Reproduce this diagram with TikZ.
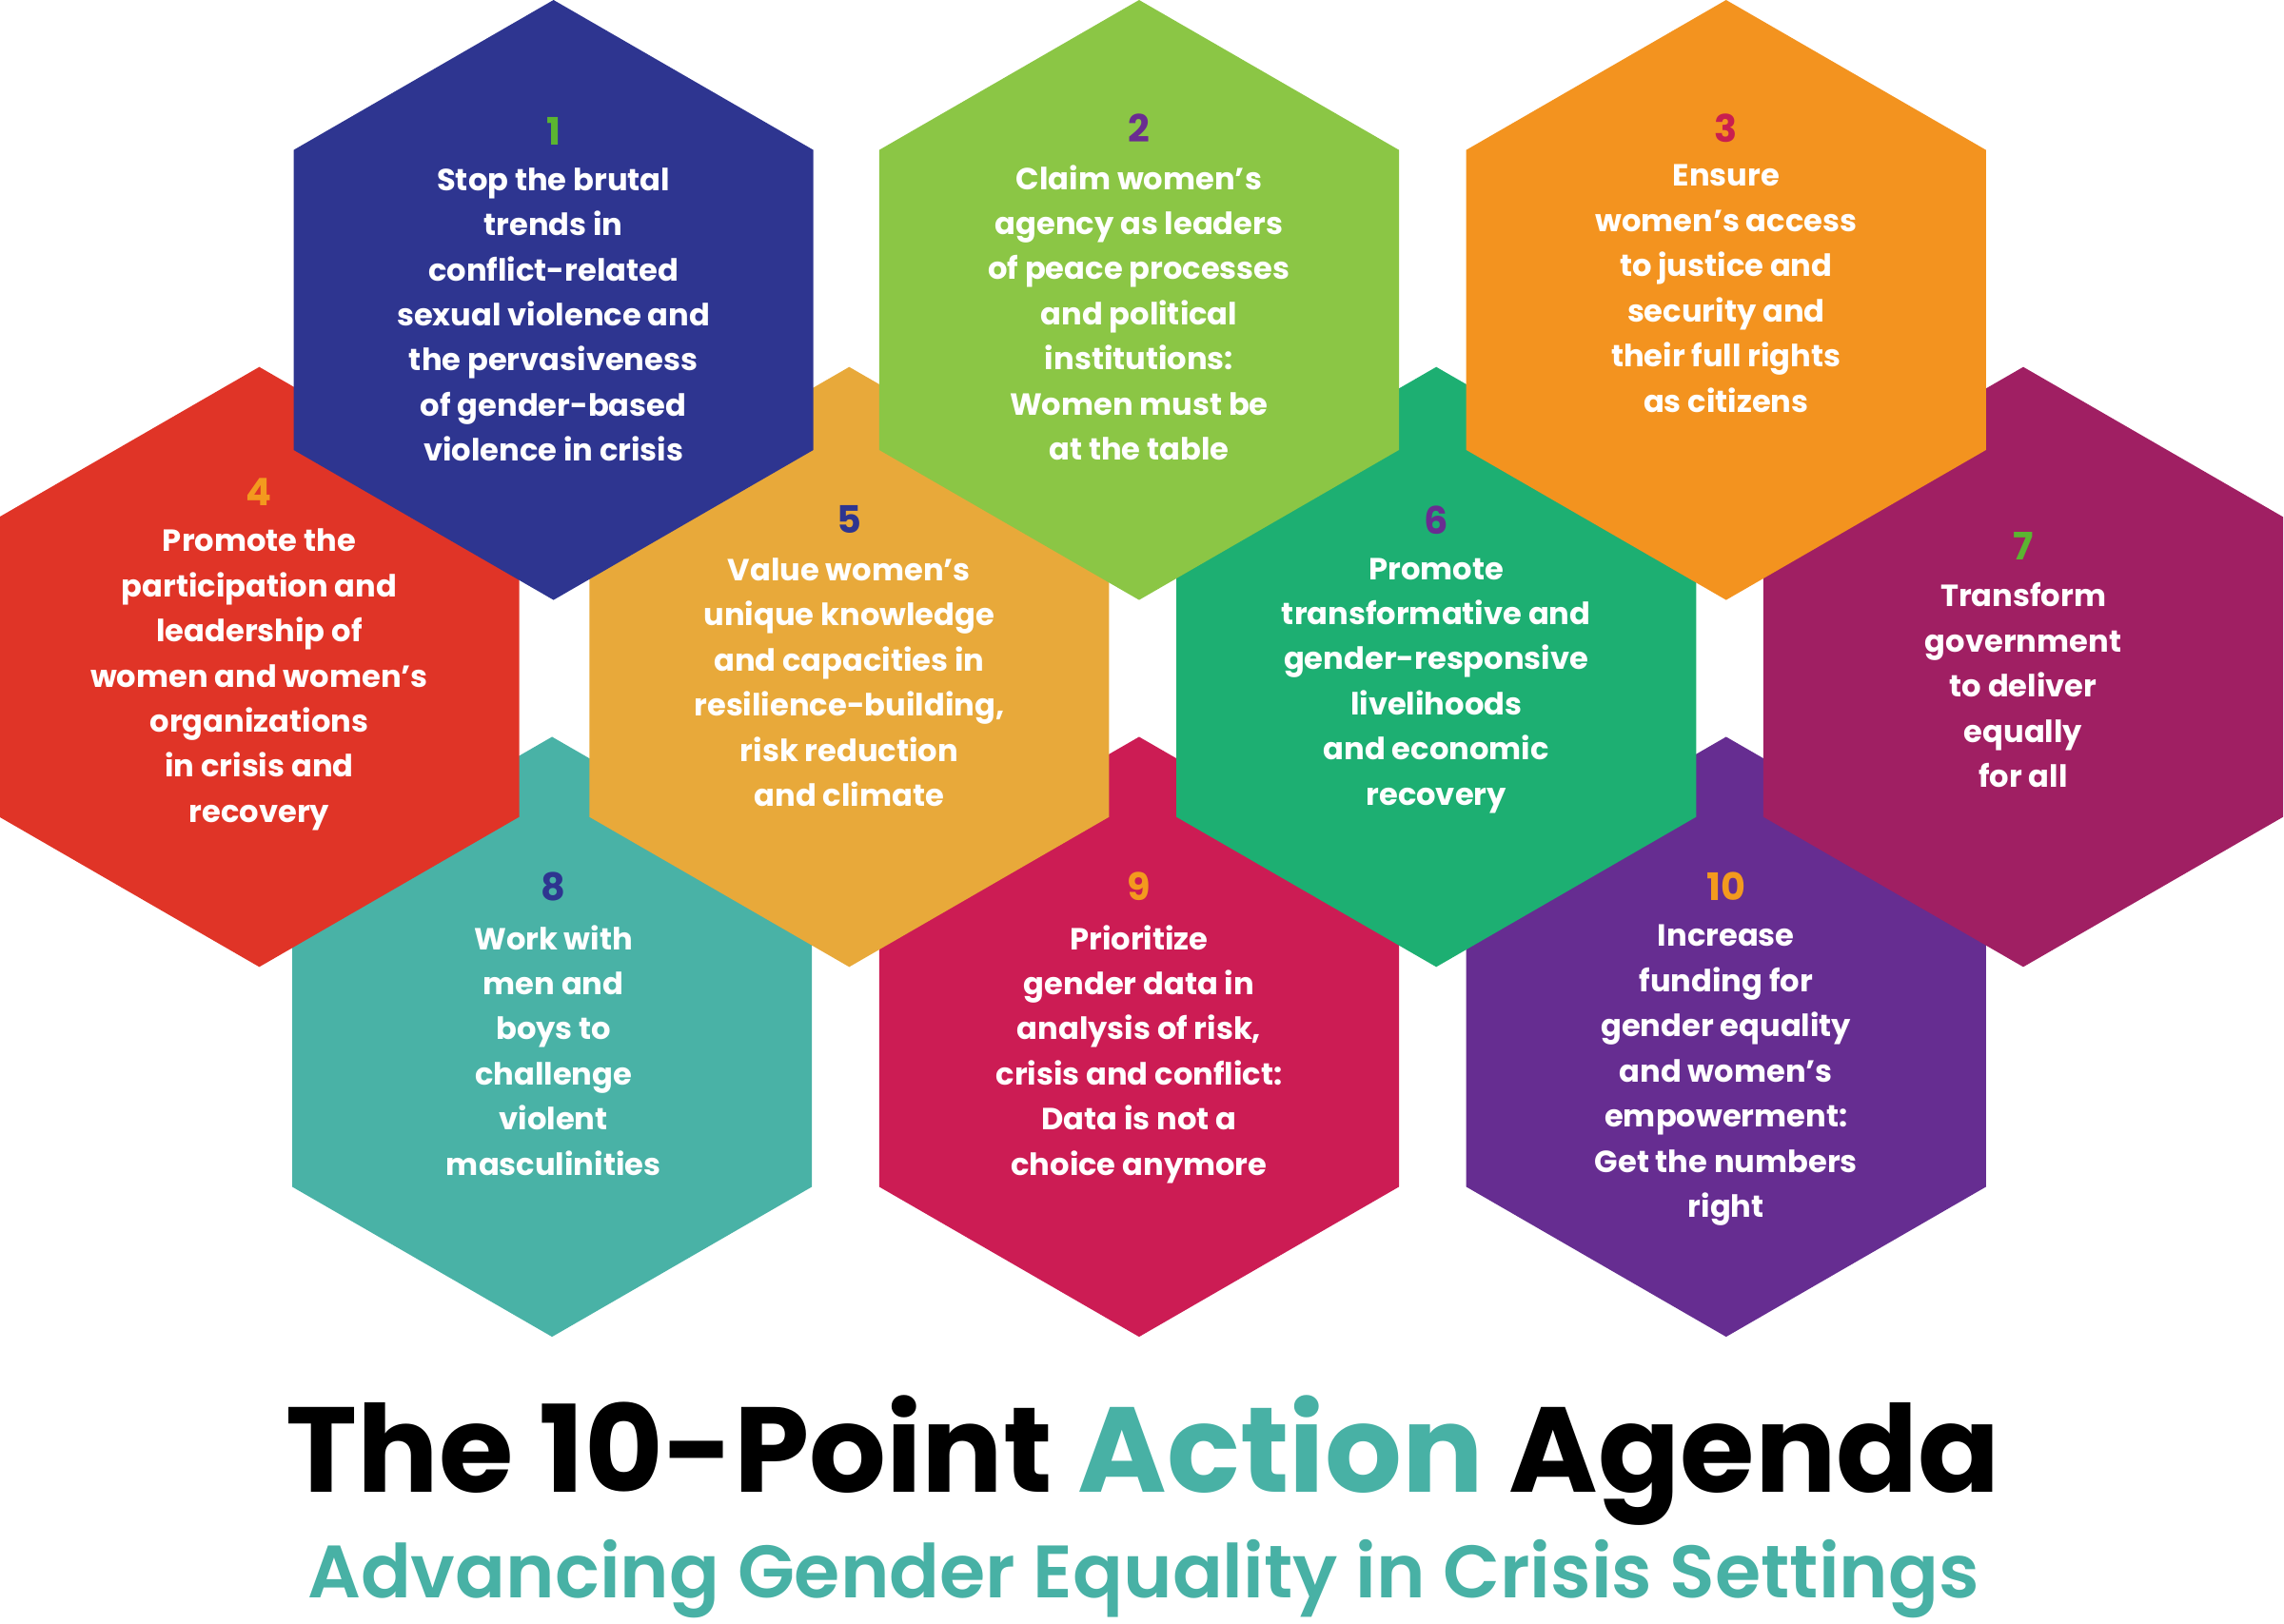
\documentclass[tikz,border=0pt]{standalone}
\usepackage{fontspec}
\setmainfont{Poppins}[BoldFont={* Bold}]
\newfontfamily\semib{Poppins SemiBold}
\definecolor{c1}{HTML}{2E3590}
\definecolor{c2}{HTML}{8BC645}
\definecolor{c3}{HTML}{F3931F}
\definecolor{c4}{HTML}{E03427}
\definecolor{c5}{HTML}{E8A93A}
\definecolor{c6}{HTML}{1DAF72}
\definecolor{c7}{HTML}{A01F63}
\definecolor{c8}{HTML}{49B2A6}
\definecolor{c9}{HTML}{CC1C54}
\definecolor{c10}{HTML}{662D91}
\definecolor{nGreen}{HTML}{5BB531}
\definecolor{nPurple}{HTML}{6A2C91}
\definecolor{nCrimson}{HTML}{C91F4F}
\definecolor{nOrange}{HTML}{F39A1E}
\definecolor{nNavy}{HTML}{2E3590}
\definecolor{teal}{HTML}{48B1A5}
\tikzset{
  hextxt/.style={text=white,font=\bfseries\fontsize{21}{31}\selectfont,align=center,inner sep=0pt},
  numtxt/.style={font=\bfseries\fontsize{26}{30}\selectfont,inner sep=0pt},
}
\newcommand{\hexa}[3]{%
  \fill[#3] (#1,#2-206) -- (#1+178.4,#2-103) -- (#1+178.4,#2+103) -- (#1,#2+206) -- (#1-178.4,#2+103) -- (#1-178.4,#2-103) -- cycle;}
\begin{document}
\begin{tikzpicture}[x=1pt,y=-1pt]
\useasboundingbox (0,0) rectangle (1568,1115);
% row 3
\hexa{379}{712}{c8}
\hexa{782}{712}{c9}
\hexa{1185}{712}{c10}
% row 2
\hexa{178}{458}{c4}
\hexa{583}{458}{c5}
\hexa{986}{458}{c6}
\hexa{1389}{458}{c7}
% row 1
\hexa{380}{206}{c1}
\hexa{782}{206}{c2}
\hexa{1185}{206}{c3}

\node[numtxt,text=nGreen] (n1) at (380,90) {1};
\node[hextxt,anchor=north] (t1) at (380,115) {Stop the brutal\\trends in\\conflict-related\\sexual violence and\\the pervasiveness\\of gender-based\\violence in crisis};
\node[numtxt,text=nPurple] (n2) at (782,88) {2};
\node[hextxt,anchor=north] (t2) at (782,113) {Claim women’s\\agency as leaders\\of peace processes\\and political\\institutions:\\Women must be\\at the table};
\node[numtxt,text=nCrimson] (n3) at (1185,88) {3};
\node[hextxt,anchor=north] (t3) at (1185,113) {Ensure\\women’s access\\to justice and\\security and\\their full rights\\as citizens};
\node[numtxt,text=nOrange] (n4) at (178,338) {4};
\node[hextxt,anchor=north] (t4) at (178,363) {Promote the\\participation and\\leadership of\\women and women’s\\organizations\\in crisis and\\recovery};
\node[numtxt,text=nNavy] (n5) at (583,357) {5};
\node[hextxt,anchor=north] (t5) at (583,383) {Value women’s\\unique knowledge\\and capacities in\\resilience-building,\\risk reduction\\and climate};
\node[numtxt,text=nPurple] (n6) at (986,357) {6};
\node[hextxt,anchor=north] (t6) at (986,383) {Promote\\transformative and\\gender-responsive\\livelihoods\\and economic\\recovery};
\node[numtxt,text=nGreen] (n7) at (1389,375) {7};
\node[hextxt,anchor=north] (t7) at (1389,400) {Transform\\government\\to deliver\\equally\\for all};
\node[numtxt,text=nNavy] (n8) at (380,609) {8};
\node[hextxt,anchor=north] (t8) at (380,635) {Work with\\men and\\boys to\\challenge\\violent\\masculinities};
\node[numtxt,text=nOrange] (n9) at (782,609) {9};
\node[hextxt,anchor=north] (t9) at (782,635) {Prioritize\\gender data in\\analysis of risk,\\crisis and conflict:\\Data is not a\\choice anymore};
\node[numtxt,text=nOrange] (n10) at (1185,609) {10};
\node[hextxt,anchor=north] (t10) at (1185,635) {Increase\\funding for\\gender equality\\and women’s\\empowerment:\\Get the numbers\\right};

\node[font=\bfseries\fontsize{83}{90}\selectfont,anchor=base,inner sep=0pt] (title) at (785,1025) {The 10-Point \textcolor{teal}{Action} Agenda};
\node[font=\semib\fontsize{51}{56}\selectfont,text=teal,anchor=base,inner sep=0pt] (sub) at (785,1097) {Advancing Gender Equality in Crisis Settings};
\end{tikzpicture}
\end{document}
